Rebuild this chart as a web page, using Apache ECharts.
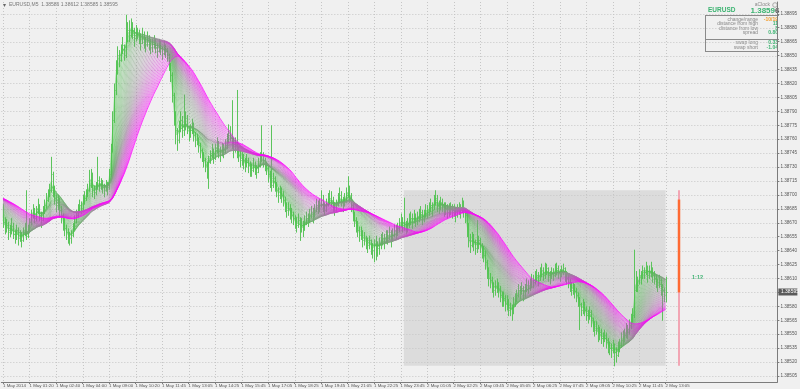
<!DOCTYPE html>
<html><head><meta charset="utf-8">
<script src="https://cdn.jsdelivr.net/npm/echarts@6/dist/echarts.min.js"></script>
<style>html,body{margin:0;padding:0;background:#f0f0f0;}#c{width:800px;height:389px;}</style>
</head><body><div id="c"></div>
<script>
// ---------- DATA ----------
const tickLabels = ["1 May 2014","1 May 01:20","1 May 02:40","1 May 04:00","1 May 09:00","1 May 10:20","1 May 11:45","1 May 13:05","1 May 14:25","1 May 15:45","1 May 17:05","1 May 18:25","1 May 19:45","1 May 21:05","1 May 22:25","1 May 23:45","2 May 01:05","2 May 02:25","2 May 03:45","2 May 05:05","2 May 06:25","2 May 07:45","2 May 09:05","2 May 10:25","2 May 11:45","2 May 13:05"];
const barsPerLabel = 16;
const priceTicks = [1.38505,1.38520,1.38535,1.38550,1.38565,1.38580,1.38595,1.38610,1.38625,1.38640,1.38655,1.38670,1.38685,1.38700,1.38715,1.38730,1.38745,1.38760,1.38775,1.38790,1.38805,1.38820,1.38835,1.38850,1.38865,1.38880,1.38895];

// closes before the first visible bar (only used to seed the moving averages)
const warmupCloses = [1.38698,1.38700,1.38697,1.38701,1.38699,1.38703,1.38700,1.38702,1.38699,1.38701,
1.38700,1.38703,1.38706,1.38704,1.38708,1.38705,1.38710,1.38707,1.38704,1.38706,1.38702,1.38705,1.38700,1.38698,1.38701,1.38696,1.38699,1.38694,1.38697,1.38692,1.38690,1.38693,1.38688,1.38685,1.38688,1.38683,1.38680,1.38682,1.38677,1.38675];

const closes = [
1.38671,1.38664,1.38668,1.38660,1.38662,1.38667,1.38658,1.38656,1.38662,1.38654,
1.38657,1.38651,1.38660,1.38664,1.38656,1.38662,1.38671,1.38678,1.38684,1.38675,
1.38682,1.38689,1.38678,1.38673,1.38682,1.38689,1.38695,1.38700,1.38705,1.38722,
1.38705,1.38697,1.38689,1.38695,1.38684,1.38678,1.38671,1.38664,1.38660,1.38656,
1.38654,1.38657,1.38664,1.38671,1.38678,1.38684,1.38689,1.38686,1.38695,1.38697,
1.38700,1.38705,1.38711,1.38722,1.38705,1.38703,1.38708,1.38716,1.38711,1.38713,
1.38709,1.38705,1.38711,1.38708,1.38722,1.38748,1.38781,1.38813,1.38835,1.38851,
1.38845,1.38856,1.38861,1.38851,1.38867,1.38878,1.38872,1.38883,1.38878,1.38869,
1.38873,1.38875,1.38869,1.38864,1.38873,1.38866,1.38862,1.38869,1.38864,1.38859,
1.38862,1.38866,1.38859,1.38855,1.38862,1.38858,1.38853,1.38859,1.38855,1.38851,
1.38840,1.38829,1.38808,1.38786,1.38770,1.38759,1.38775,1.38781,1.38770,1.38775,
1.38783,1.38772,1.38765,1.38770,1.38775,1.38765,1.38759,1.38761,1.38754,1.38748,
1.38743,1.38738,1.38732,1.38727,1.38738,1.38743,1.38748,1.38740,1.38748,1.38754,
1.38748,1.38743,1.38751,1.38746,1.38754,1.38759,1.38770,1.38765,1.38759,1.38748,
1.38754,1.38748,1.38743,1.38738,1.38740,1.38736,1.38732,1.38738,1.38732,1.38729,
1.38727,1.38732,1.38729,1.38725,1.38732,1.38738,1.38743,1.38738,1.38732,1.38729,
1.38722,1.38716,1.38711,1.38718,1.38711,1.38705,1.38700,1.38705,1.38700,1.38695,
1.38689,1.38684,1.38686,1.38682,1.38678,1.38675,1.38671,1.38668,1.38673,1.38664,
1.38668,1.38662,1.38671,1.38675,1.38673,1.38678,1.38682,1.38675,1.38684,1.38689,
1.38686,1.38689,1.38695,1.38689,1.38684,1.38689,1.38695,1.38697,1.38695,1.38689,
1.38684,1.38689,1.38695,1.38700,1.38695,1.38689,1.38695,1.38700,1.38705,1.38700,
1.38689,1.38678,1.38673,1.38668,1.38662,1.38657,1.38660,1.38651,1.38654,1.38649,
1.38646,1.38651,1.38643,1.38641,1.38646,1.38649,1.38643,1.38646,1.38651,1.38654,
1.38649,1.38657,1.38654,1.38660,1.38651,1.38657,1.38662,1.38660,1.38664,1.38668,
1.38673,1.38668,1.38671,1.38664,1.38668,1.38673,1.38675,1.38671,1.38678,1.38673,
1.38675,1.38678,1.38682,1.38675,1.38678,1.38684,1.38682,1.38686,1.38689,1.38684,
1.38695,1.38697,1.38689,1.38686,1.38692,1.38689,1.38684,1.38686,1.38682,1.38684,
1.38686,1.38682,1.38684,1.38678,1.38684,1.38686,1.38682,1.38689,1.38684,1.38678,
1.38662,1.38651,1.38646,1.38654,1.38649,1.38643,1.38646,1.38651,1.38646,1.38641,
1.38635,1.38628,1.38619,1.38611,1.38608,1.38603,1.38598,1.38600,1.38603,1.38598,
1.38592,1.38587,1.38589,1.38582,1.38585,1.38576,1.38578,1.38574,1.38582,1.38587,
1.38592,1.38598,1.38596,1.38600,1.38592,1.38598,1.38603,1.38600,1.38604,1.38608,
1.38606,1.38611,1.38614,1.38608,1.38617,1.38619,1.38614,1.38617,1.38621,1.38614,
1.38611,1.38617,1.38614,1.38619,1.38621,1.38617,1.38614,1.38619,1.38621,1.38614,
1.38611,1.38606,1.38603,1.38598,1.38600,1.38596,1.38592,1.38587,1.38582,1.38576,
1.38582,1.38576,1.38571,1.38568,1.38574,1.38565,1.38560,1.38555,1.38557,1.38549,
1.38552,1.38546,1.38544,1.38549,1.38542,1.38538,1.38535,1.38533,1.38538,1.38531,
1.38528,1.38535,1.38538,1.38544,1.38546,1.38549,1.38555,1.38552,1.38560,1.38565,
1.38571,1.38598,1.38608,1.38603,1.38614,1.38611,1.38619,1.38617,1.38621,1.38614,
1.38617,1.38619,1.38614,1.38611,1.38606,1.38603,1.38608,1.38600,1.38598,1.38592,
1.38595];

const highs = [
1.38690,1.38676,1.38674,1.38671,1.38668,1.38675,1.38670,1.38662,1.38668,1.38665,
1.38662,1.38660,1.38665,1.38670,1.38705,1.38668,1.38675,1.38684,1.38690,1.38686,
1.38688,1.38696,1.38690,1.38682,1.38688,1.38695,1.38702,1.38706,1.38712,1.38741,
1.38725,1.38710,1.38700,1.38700,1.38697,1.38688,1.38680,1.38675,1.38668,1.38664,
1.38660,1.38662,1.38670,1.38678,1.38684,1.38690,1.38695,1.38693,1.38700,1.38704,
1.38706,1.38712,1.38727,1.38728,1.38724,1.38710,1.38714,1.38741,1.38720,1.38718,
1.38716,1.38712,1.38716,1.38714,1.38728,1.38755,1.38790,1.38820,1.38845,1.38860,
1.38856,1.38862,1.38870,1.38862,1.38894,1.38886,1.38888,1.38890,1.38886,1.38880,
1.38883,1.38880,1.38878,1.38874,1.38880,1.38876,1.38870,1.38876,1.38872,1.38868,
1.38868,1.38872,1.38868,1.38863,1.38868,1.38866,1.38860,1.38866,1.38862,1.38858,
1.38852,1.38842,1.38832,1.38810,1.38790,1.38772,1.38780,1.38790,1.38785,1.38808,
1.38790,1.38786,1.38774,1.38776,1.38782,1.38778,1.38768,1.38766,1.38762,1.38756,
1.38750,1.38746,1.38740,1.38736,1.38742,1.38748,1.38755,1.38750,1.38755,1.38762,
1.38758,1.38752,1.38756,1.38755,1.38760,1.38766,1.38776,1.38774,1.38802,1.38762,
1.38762,1.38813,1.38752,1.38748,1.38746,1.38744,1.38740,1.38744,1.38740,1.38736,
1.38734,1.38740,1.38736,1.38732,1.38740,1.38746,1.38775,1.38746,1.38740,1.38736,
1.38732,1.38726,1.38775,1.38724,1.38720,1.38714,1.38708,1.38710,1.38708,1.38704,
1.38698,1.38692,1.38692,1.38690,1.38686,1.38682,1.38678,1.38676,1.38680,1.38676,
1.38675,1.38672,1.38678,1.38682,1.38680,1.38685,1.38688,1.38686,1.38690,1.38696,
1.38694,1.38696,1.38705,1.38700,1.38692,1.38696,1.38702,1.38705,1.38704,1.38698,
1.38692,1.38695,1.38702,1.38708,1.38704,1.38698,1.38702,1.38708,1.38720,1.38710,
1.38702,1.38692,1.38682,1.38676,1.38672,1.38666,1.38666,1.38662,1.38660,1.38656,
1.38654,1.38656,1.38652,1.38648,1.38652,1.38656,1.38650,1.38654,1.38658,1.38660,
1.38658,1.38662,1.38662,1.38666,1.38662,1.38664,1.38668,1.38668,1.38670,1.38675,
1.38680,1.38676,1.38697,1.38672,1.38675,1.38680,1.38682,1.38680,1.38684,1.38680,
1.38682,1.38685,1.38688,1.38684,1.38684,1.38690,1.38689,1.38692,1.38696,1.38692,
1.38700,1.38705,1.38700,1.38694,1.38698,1.38696,1.38692,1.38692,1.38690,1.38691,
1.38692,1.38690,1.38690,1.38686,1.38690,1.38692,1.38690,1.38697,1.38694,1.38686,
1.38684,1.38670,1.38658,1.38660,1.38658,1.38652,1.38673,1.38656,1.38654,1.38648,
1.38645,1.38640,1.38630,1.38622,1.38616,1.38612,1.38606,1.38608,1.38610,1.38606,
1.38602,1.38596,1.38596,1.38592,1.38592,1.38588,1.38584,1.38582,1.38590,1.38594,
1.38598,1.38604,1.38602,1.38606,1.38602,1.38604,1.38610,1.38608,1.38610,1.38615,
1.38614,1.38618,1.38620,1.38617,1.38622,1.38626,1.38622,1.38627,1.38626,1.38622,
1.38618,1.38622,1.38621,1.38626,1.38627,1.38624,1.38620,1.38624,1.38626,1.38622,
1.38618,1.38614,1.38610,1.38606,1.38605,1.38604,1.38600,1.38595,1.38590,1.38584,
1.38588,1.38585,1.38580,1.38576,1.38580,1.38576,1.38568,1.38564,1.38564,1.38560,
1.38558,1.38556,1.38552,1.38555,1.38552,1.38546,1.38542,1.38540,1.38544,1.38540,
1.38536,1.38542,1.38545,1.38552,1.38554,1.38556,1.38562,1.38560,1.38566,1.38572,
1.38578,1.38641,1.38618,1.38612,1.38620,1.38618,1.38624,1.38622,1.38628,1.38624,
1.38624,1.38628,1.38622,1.38618,1.38614,1.38610,1.38614,1.38610,1.38604,1.38600,
1.38612];

const lows = [
1.38665,1.38658,1.38660,1.38652,1.38655,1.38658,1.38653,1.38648,1.38652,1.38646,
1.38650,1.38644,1.38650,1.38656,1.38652,1.38654,1.38660,1.38668,1.38675,1.38670,
1.38672,1.38680,1.38672,1.38665,1.38672,1.38680,1.38686,1.38693,1.38698,1.38703,
1.38698,1.38690,1.38682,1.38684,1.38676,1.38670,1.38662,1.38656,1.38652,1.38648,
1.38646,1.38648,1.38655,1.38662,1.38670,1.38676,1.38682,1.38680,1.38684,1.38690,
1.38694,1.38698,1.38704,1.38708,1.38698,1.38696,1.38700,1.38706,1.38704,1.38706,
1.38702,1.38698,1.38704,1.38700,1.38706,1.38720,1.38746,1.38778,1.38808,1.38830,
1.38838,1.38844,1.38852,1.38845,1.38848,1.38865,1.38865,1.38870,1.38868,1.38860,
1.38866,1.38868,1.38863,1.38856,1.38863,1.38858,1.38854,1.38860,1.38856,1.38852,
1.38854,1.38858,1.38853,1.38848,1.38854,1.38851,1.38846,1.38851,1.38848,1.38844,
1.38834,1.38822,1.38800,1.38775,1.38755,1.38748,1.38756,1.38768,1.38762,1.38764,
1.38770,1.38766,1.38758,1.38762,1.38766,1.38758,1.38752,1.38754,1.38746,1.38740,
1.38736,1.38730,1.38725,1.38718,1.38707,1.38734,1.38740,1.38734,1.38738,1.38745,
1.38740,1.38736,1.38742,1.38740,1.38745,1.38750,1.38756,1.38758,1.38750,1.38740,
1.38746,1.38740,1.38736,1.38730,1.38732,1.38728,1.38725,1.38730,1.38724,1.38720,
1.38720,1.38725,1.38722,1.38718,1.38724,1.38730,1.38736,1.38730,1.38726,1.38722,
1.38714,1.38708,1.38704,1.38708,1.38704,1.38698,1.38692,1.38696,1.38692,1.38688,
1.38682,1.38676,1.38678,1.38674,1.38670,1.38668,1.38664,1.38660,1.38665,1.38651,
1.38660,1.38655,1.38662,1.38668,1.38666,1.38670,1.38675,1.38670,1.38676,1.38682,
1.38680,1.38682,1.38687,1.38682,1.38678,1.38682,1.38688,1.38690,1.38688,1.38682,
1.38678,1.38682,1.38688,1.38693,1.38688,1.38682,1.38688,1.38692,1.38698,1.38692,
1.38682,1.38672,1.38666,1.38660,1.38655,1.38650,1.38652,1.38644,1.38646,1.38642,
1.38638,1.38642,1.38636,1.38632,1.38628,1.38630,1.38634,1.38636,1.38642,1.38646,
1.38642,1.38648,1.38647,1.38652,1.38644,1.38650,1.38655,1.38653,1.38656,1.38660,
1.38666,1.38660,1.38662,1.38658,1.38660,1.38665,1.38668,1.38664,1.38670,1.38666,
1.38668,1.38671,1.38674,1.38668,1.38671,1.38676,1.38675,1.38678,1.38682,1.38677,
1.38684,1.38689,1.38682,1.38680,1.38684,1.38682,1.38677,1.38679,1.38675,1.38677,
1.38679,1.38675,1.38677,1.38671,1.38676,1.38679,1.38675,1.38681,1.38676,1.38670,
1.38655,1.38644,1.38638,1.38644,1.38640,1.38636,1.38638,1.38642,1.38638,1.38632,
1.38628,1.38620,1.38610,1.38602,1.38600,1.38595,1.38590,1.38592,1.38595,1.38590,
1.38585,1.38580,1.38580,1.38575,1.38576,1.38570,1.38570,1.38565,1.38572,1.38580,
1.38585,1.38590,1.38588,1.38593,1.38586,1.38590,1.38596,1.38594,1.38597,1.38600,
1.38600,1.38604,1.38607,1.38602,1.38608,1.38612,1.38608,1.38610,1.38614,1.38607,
1.38604,1.38610,1.38608,1.38612,1.38614,1.38610,1.38607,1.38612,1.38614,1.38607,
1.38604,1.38600,1.38596,1.38592,1.38593,1.38589,1.38585,1.38580,1.38555,1.38570,
1.38572,1.38570,1.38565,1.38562,1.38566,1.38558,1.38553,1.38548,1.38550,1.38542,
1.38544,1.38540,1.38537,1.38542,1.38535,1.38530,1.38528,1.38525,1.38530,1.38516,
1.38520,1.38526,1.38531,1.38536,1.38538,1.38542,1.38546,1.38545,1.38550,1.38556,
1.38563,1.38568,1.38596,1.38596,1.38604,1.38604,1.38610,1.38610,1.38614,1.38606,
1.38610,1.38612,1.38606,1.38604,1.38600,1.38596,1.38600,1.38592,1.38565,1.38585,
1.38585];

const maPeriods = [2,3,4,5,6,7,8,9,10,11,12,13,14,15,16,17,18,19,20,21,22,23,24,25,26,27,28,29,30,31,32,33,34,35,36,37,38,39,40];
const rangeStartBar = 242, rangeEndBar = 400;
const rangeOpenPrice = 1.38695;
const markerBar = 408;
const markerLabel = "1:12";
const titleText = "EURUSD,M5  1.38586 1.38612 1.38585 1.38595";
const infoSymbol = "EURUSD", infoPriceMain = "1.3859", infoPriceLast = "6";
const infoRows1 = [["change/range","-10/19"],["distance from high","11"],["distance from low","8"],["spread","0.80"]];
const infoRows2 = [["swap long","0.33"],["swap short","-1.04"]];

// ---------- CHART ----------
const FONT = '"Liberation Sans", Arial, sans-serif';
const X_MIN = -1, X_MAX = 467.5;
const Y_MIN = 1.3849854, Y_MAX = 1.3890772;
const RIBBON_STOPS = [[70, 200, 70], [150, 140, 150], [255, 0, 255]];
const BAR_COLOR = '#5cc45c';

const chart = echarts.init(document.getElementById('c'), null, {renderer: 'canvas'});
const W = warmupCloses.length;
const allCloses = warmupCloses.concat(closes);
function sma(p, i) { let s = 0, n = 0; for (let k = 0; k < p; k++) { const j = W + i - k; if (j >= 0) { s += allCloses[j]; n++; } } return s / n; }
function mix(t) {
  const seg = t < 0.5 ? 0 : 1; const u = t < 0.5 ? t / 0.5 : (t - 0.5) / 0.5;
  const a = RIBBON_STOPS[seg], b = RIBBON_STOPS[seg + 1];
  return 'rgb(' + a.map((v, k) => Math.round(v + (b[k] - v) * u)).join(',') + ')';
}

const xTickVals = tickLabels.map((_, k) => k * barsPerLabel);
const barData = closes.map((c, i) => [i, highs[i], lows[i], c]);
let boxHigh = -Infinity, boxLow = Infinity;
for (let i = rangeStartBar; i <= rangeEndBar; i++) { boxHigh = Math.max(boxHigh, highs[i]); boxLow = Math.min(boxLow, lows[i]); }
const lastClose = closes[closes.length - 1];

const series = [];
// range box
series.push({
  type: 'custom', z: 0, silent: true, clip: true,
  data: [[rangeStartBar, rangeEndBar, boxHigh, boxLow]],
  renderItem: (p, api) => {
    const a = api.coord([api.value(0), api.value(2)]);
    const b = api.coord([api.value(1), api.value(3)]);
    return {type: 'rect', shape: {x: a[0], y: a[1], width: b[0] - a[0], height: b[1] - a[1]}, style: {fill: '#dcdcdc'}};
  }
});
// grid lines
series.push({
  type: 'custom', z: 1, silent: true,
  data: priceTicks.map(v => [0, v]),
  renderItem: (p, api) => {
    const cs = p.coordSys; const y = Math.round(api.coord([0, api.value(1)])[1]) + 0.5;
    return {type: 'line', shape: {x1: cs.x, y1: y, x2: cs.x + cs.width, y2: y}, style: {stroke: '#c6c6c6', lineWidth: 1, lineDash: [1, 2]}};
  }
});
series.push({
  type: 'custom', z: 1, silent: true,
  data: xTickVals.map(v => [v, Y_MIN]),
  renderItem: (p, api) => {
    const cs = p.coordSys; const x = Math.round(api.coord([api.value(0), Y_MIN])[0]) + 0.5;
    return {type: 'line', shape: {x1: x, y1: cs.y, x2: x, y2: cs.y + cs.height}, style: {stroke: '#c6c6c6', lineWidth: 1, lineDash: [1, 2]}};
  }
});
// OHLC bars
series.push({
  type: 'custom', z: 2, silent: true, clip: true,
  data: barData,
  encode: {x: 0, y: [1, 2]},
  renderItem: (p, api) => {
    const hi = api.coord([api.value(0), api.value(1)]);
    const lo = api.coord([api.value(0), api.value(2)]);
    const cl = api.coord([api.value(0), api.value(3)]);
    const x = Math.round(hi[0]) + 0.5;
    return {type: 'group', children: [
      {type: 'line', shape: {x1: x, y1: hi[1], x2: x, y2: lo[1] + 0.5}, style: {stroke: BAR_COLOR, lineWidth: 1}},
      {type: 'line', shape: {x1: x, y1: Math.round(cl[1]) + 0.5, x2: x + 1, y2: Math.round(cl[1]) + 0.5}, style: {stroke: BAR_COLOR, lineWidth: 1}}
    ]};
  }
});
// moving average ribbon
maPeriods.forEach((per, k) => {
  const t = k / (maPeriods.length - 1);
  series.push({
    type: 'line', z: 3, silent: true, showSymbol: false, symbol: 'none', animation: false,
    data: closes.map((_, i) => [i, sma(per, i)]),
    lineStyle: {color: mix(t), width: 0.8, opacity: k === maPeriods.length - 1 ? 0.95 : 0.6}
  });
});
// range marker line
series.push({
  type: 'custom', z: 4, silent: true, clip: false,
  data: [[markerBar, boxHigh, boxLow, rangeOpenPrice, lastClose]],
  renderItem: (p, api) => {
    const a = api.coord([api.value(0), api.value(1)]);
    const b = api.coord([api.value(0), api.value(2)]);
    const c = api.coord([api.value(0), api.value(3)]);
    const d = api.coord([api.value(0), api.value(4)]);
    const x = Math.round(a[0]);
    return {type: 'group', children: [
      {type: 'line', shape: {x1: x, y1: a[1], x2: x, y2: b[1]}, style: {stroke: '#f2a6b4', lineWidth: 2}},
      {type: 'line', shape: {x1: x, y1: c[1], x2: x, y2: d[1]}, style: {stroke: '#ff6a33', lineWidth: 2.5}}
    ]};
  }
});
// current price label on the axis
series.push({
  type: 'custom', z: 5, silent: true, clip: false,
  data: [[closes.length - 1, lastClose]],
  renderItem: (p, api) => {
    const cs = p.coordSys; const y = Math.round(api.coord([api.value(0), api.value(1)])[1]);
    return {type: 'group', children: [
      {type: 'rect', shape: {x: cs.x + cs.width + 1, y: y - 3.5, width: 19, height: 7}, style: {fill: '#5a5a5a'}},
      {type: 'text', x: cs.x + cs.width + 3.5, y: y, style: {text: api.value(1).toFixed(5), fill: '#ffffff', font: '5px ' + FONT, verticalAlign: 'middle', align: 'left'}}
    ]};
  }
});

const graphic = [
  {type: 'text', x: 3, y: 5, style: {text: '\u25BE', fill: '#666', font: '6px ' + FONT, verticalAlign: 'middle'}},
  {type: 'text', x: 9, y: 5, style: {text: titleText, fill: '#777', font: '5px ' + FONT, verticalAlign: 'middle'}},
  {type: 'text', x: 770, y: 5, style: {text: 'aClock', fill: '#888', font: '5px ' + FONT, align: 'right', verticalAlign: 'middle'}},
  {type: 'circle', shape: {cx: 775, cy: 5, r: 2.3}, style: {fill: 'none', stroke: '#999', lineWidth: 0.8}},
  {type: 'text', x: 708, y: 10.5, style: {text: infoSymbol, fill: '#3cb371', font: 'bold 6.5px ' + FONT, verticalAlign: 'middle'}},
  {type: 'text', x: 775, y: 10.5, style: {text: infoPriceMain, fill: '#3cb371', font: 'bold 8px ' + FONT, align: 'right', verticalAlign: 'middle'}},
  {type: 'text', x: 775, y: 10.5, style: {text: infoPriceLast, fill: '#555', font: 'bold 8px ' + FONT, align: 'left', verticalAlign: 'middle'}},
  {type: 'line', shape: {x1: 705, y1: 15.5, x2: 779, y2: 15.5}, style: {stroke: '#8a8a8a', lineWidth: 1}},
  {type: 'line', shape: {x1: 705.5, y1: 15, x2: 705.5, y2: 52}, style: {stroke: '#8a8a8a', lineWidth: 1}},
  {type: 'line', shape: {x1: 705, y1: 39.5, x2: 779, y2: 39.5}, style: {stroke: '#8a8a8a', lineWidth: 1}},
  {type: 'line', shape: {x1: 705, y1: 51.5, x2: 779, y2: 51.5}, style: {stroke: '#8a8a8a', lineWidth: 1}},
  {type: 'text', x: 692, y: 277, style: {text: markerLabel, fill: '#3cb371', font: 'bold 5.5px ' + FONT, verticalAlign: 'middle'}}
];
infoRows1.forEach((r, k) => {
  const y = 19.5 + k * 4.5;
  graphic.push({type: 'text', x: 758, y: y, style: {text: r[0], fill: '#888', font: '5px ' + FONT, align: 'right', verticalAlign: 'middle'}});
  graphic.push({type: 'text', x: 778, y: y, style: {text: r[1], fill: k === 0 ? '#f39c2a' : '#3cb371', font: 'bold 5px ' + FONT, align: 'right', verticalAlign: 'middle'}});
});
infoRows2.forEach((r, k) => {
  const y = 43 + k * 4.5;
  graphic.push({type: 'text', x: 758, y: y, style: {text: r[0], fill: '#888', font: '5px ' + FONT, align: 'right', verticalAlign: 'middle'}});
  graphic.push({type: 'text', x: 778, y: y, style: {text: r[1], fill: '#3cb371', font: 'bold 5px ' + FONT, align: 'right', verticalAlign: 'middle'}});
});

chart.setOption({
  animation: false,
  backgroundColor: '#f0f0f0',
  grid: {left: 0, right: 18, top: 2, bottom: 7, containLabel: false},
  xAxis: {
    type: 'value', min: X_MIN, max: X_MAX,
    axisLine: {show: true, onZero: false, lineStyle: {color: '#7c7c7c', width: 1}},
    axisTick: {show: true, customValues: xTickVals, length: 2, lineStyle: {color: '#7c7c7c'}},
    axisLabel: {customValues: xTickVals, formatter: v => tickLabels[Math.round(v / barsPerLabel)] || '', fontSize: 4.4, fontFamily: FONT, color: '#555', align: 'left', margin: 1.5},
    splitLine: {show: false}
  },
  yAxis: {
    type: 'value', position: 'right', min: Y_MIN, max: Y_MAX,
    axisLine: {show: true, onZero: false, lineStyle: {color: '#7c7c7c', width: 1}},
    axisTick: {show: true, customValues: priceTicks, length: 2, lineStyle: {color: '#7c7c7c'}},
    axisLabel: {customValues: priceTicks, formatter: v => v.toFixed(5), fontSize: 4.6, fontFamily: FONT, color: '#555', margin: 3},
    splitLine: {show: false}
  },
  graphic: graphic,
  series: series
});
</script></body></html>
